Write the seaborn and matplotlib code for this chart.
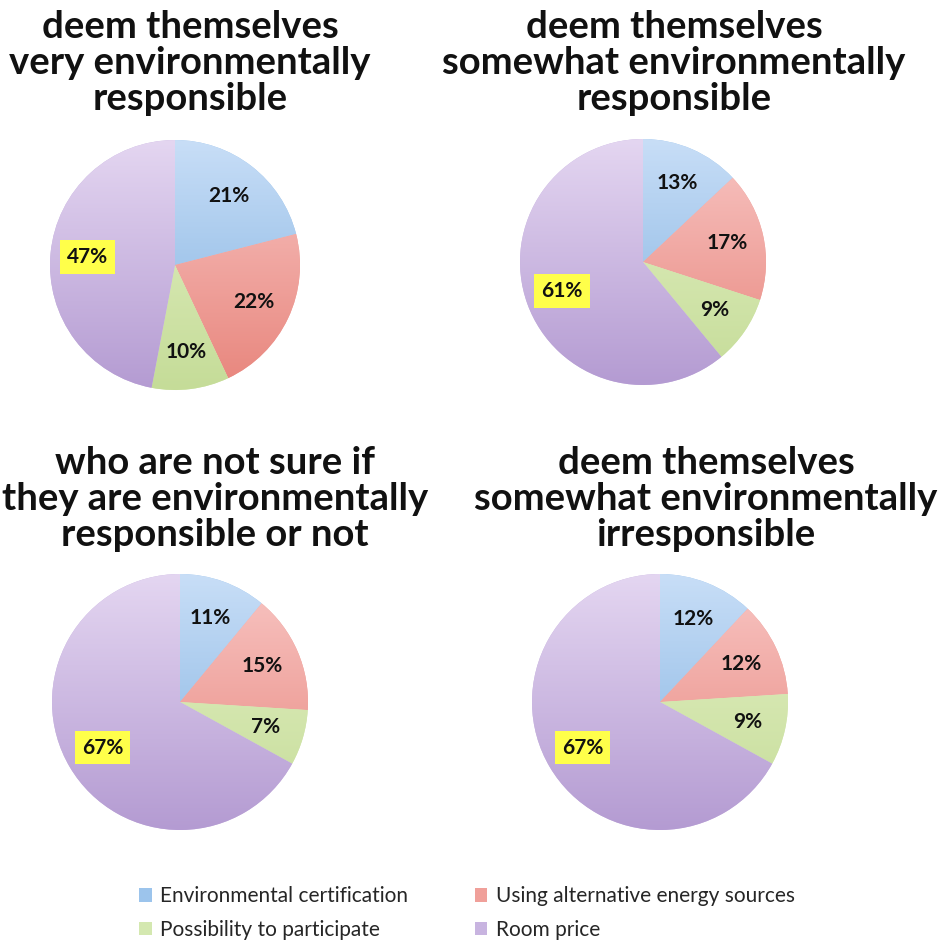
import numpy as np
import matplotlib.pyplot as plt
import matplotlib.colors as mcolors
from matplotlib.patches import Patch
import seaborn as sns

sns.set_theme(style="white")
plt.rcParams["font.family"] = ["Lato", "DejaVu Sans"]

# Data
categories = ["Environmental certification", "Using alternative energy sources",
              "Possibility to participate", "Room price"]
titles = [
    "deem themselves\nvery environmentally\nresponsible",
    "deem themselves\nsomewhat environmentally\nresponsible",
    "who are not sure if\nthey are environmentally\nresponsible or not",
    "deem themselves\nsomewhat environmentally\nirresponsible",
]
very_resp = [21, 22, 10, 47]
somewhat_resp = [13, 17, 9, 61]
not_sure = [11, 15, 7, 67]
somewhat_irresp = [12, 12, 9, 67]
groups = [very_resp, somewhat_resp, not_sure, somewhat_irresp]

# gradient colours per category (top, bottom)
grad_top = ["#c8def7", "#f8c6c4", "#e4f1c6", "#e4d6f1"]
grad_bot = ["#7fb0e0", "#e8857c", "#c5dc98", "#b49bd2"]
legend_cols = ["#9cc4ec", "#f0a09a", "#d4e8b0", "#c8b4e0"]

W, H = 953, 942
fig = plt.figure(figsize=(W / 100, H / 100), dpi=100)

# pie centers / radii in pixels, title positions
pies = [(175, 265, 125), (643, 262, 123), (180, 702, 128), (660, 702, 128)]
title_pos = [(190, 63), (674, 63), (215, 499), (706, 499)]


def draw_pie(vals, cx, cy, r):
    ax = fig.add_axes([(cx - r) / W, 1 - (cy + r) / H, 2 * r / W, 2 * r / H])
    wedges, texts, autotexts = ax.pie(
        vals, startangle=90, counterclock=False, radius=1,
        colors=legend_cols, autopct="%d%%", pctdistance=0.7,
        wedgeprops=dict(linewidth=0),
        textprops=dict(fontsize=15, fontweight="bold", color="#111111"))
    for i, w in enumerate(wedges):
        c0 = np.array(mcolors.to_rgb(grad_top[i]))
        c1 = np.array(mcolors.to_rgb(grad_bot[i]))
        t = np.linspace(0, 1, 256)[:, None]
        img = (c0 * (1 - t) + c1 * t)[:, None, :]
        im = ax.imshow(img, extent=[-1, 1, -1, 1], aspect="auto", zorder=1.5)
        im.set_clip_path(w)
    for t in autotexts:
        t.set_zorder(3)
    autotexts[3].set_bbox(dict(facecolor="#ffff4a", edgecolor="none", pad=5))
    ax.set_xlim(-1, 1)
    ax.set_ylim(-1, 1)
    ax.axis("off")
    return ax


for vals, (cx, cy, r) in zip(groups, pies):
    draw_pie(vals, cx, cy, r)

for title, (tx, ty) in zip(titles, title_pos):
    fig.text(tx / W, 1 - ty / H, title, ha="center", va="center",
             multialignment="center", fontsize=27.5, fontweight="bold",
             linespacing=1.06, color="#111111")

# legend filled row by row like the original
order = [0, 2, 1, 3]
handles = [Patch(facecolor=legend_cols[i], edgecolor="none") for i in order]
labels = [categories[i] for i in order]
fig.legend(handles, labels, ncol=2, loc="center",
           bbox_to_anchor=(0.49, 1 - 913 / H), frameon=False, fontsize=15,
           handlelength=0.6, handleheight=0.6, handletextpad=0.4,
           columnspacing=3.2, labelspacing=0.65)

fig.savefig("out.png", dpi=100, facecolor="white")
